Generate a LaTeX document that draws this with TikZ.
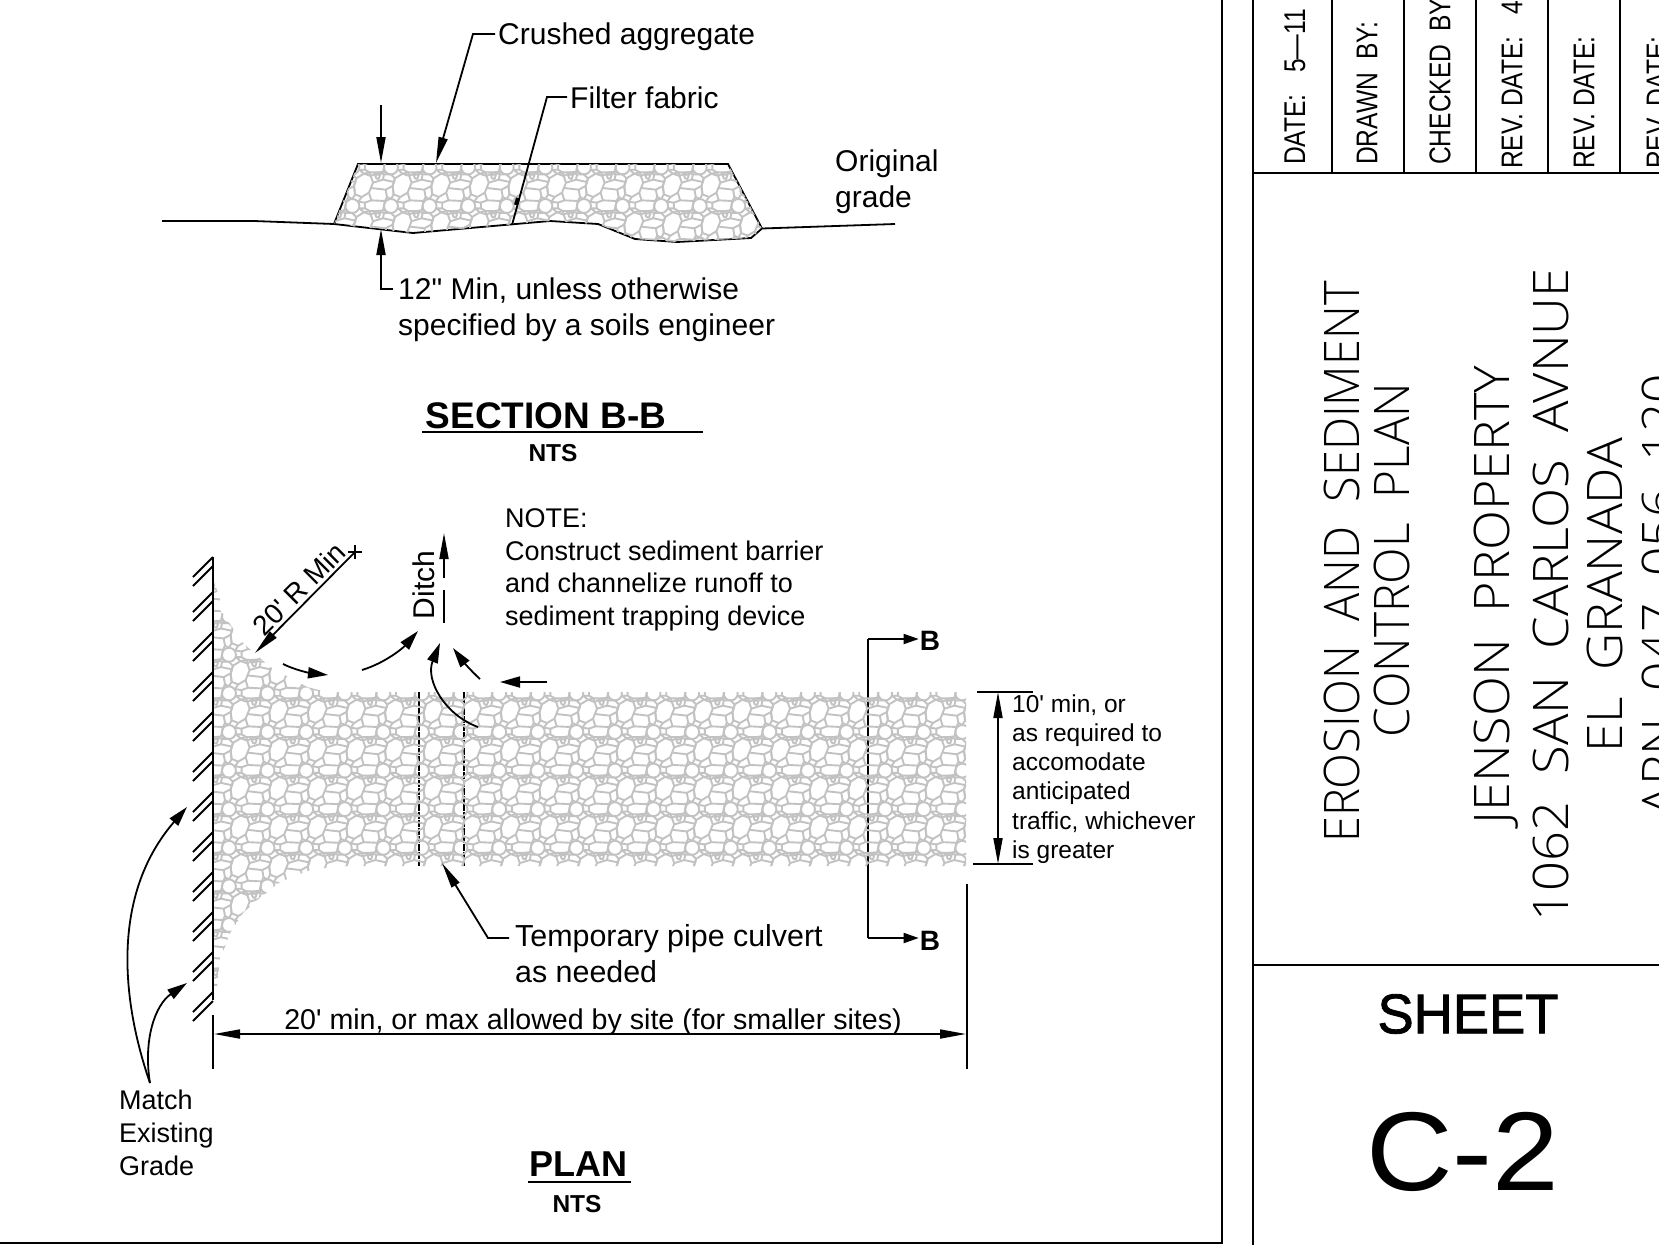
\documentclass[tikz,border=0pt]{standalone}
\usepackage{fontspec}
\usepackage{xcolor}
\setmainfont[Ligatures=TeXOff]{Liberation Sans}
\newfontfamily\titlefont[UprightFont={* Light},Ligatures=TeXOff]{Open Sans}
\newfontfamily\sheetfont[FakeBold=1.5]{Liberation Sans}
\usetikzlibrary{arrows.meta}
\definecolor{rockgray}{HTML}{C2C2C2}
\newcommand{\sz}[2]{\fontsize{#1}{#2}\selectfont}
\tikzset{
  rockline/.style={rockgray,line width=1.9pt,line join=round},
  rocktile/.pic={
    \draw[rockline] (-27,3) -- (-20,-20) -- (3,-34) -- (23,-27) -- (30,-7) -- (18,23) -- (-4,36) -- (-24,28) -- cycle;
    \draw[rockline] (-32,63) circle (21);
    \draw[rockline] (30,-7) -- (60,-16) -- (93,-9) -- (89,3) -- (68,14) -- (24,9);
    \draw[rockline] (23,-27) -- (45,-38) -- (63,-32) -- (60,-16);
    \draw[rockline] (36,-30) -- (52,-32) -- (47,-18) -- (40,-20) -- cycle;
    \draw[rockline] (63,-32) -- (84,-32) (93,-9) -- (96,-20);
    \draw[rockline] (18,23) -- (25,46) -- (66,48) -- (72,36) -- (68,14);
    \draw[rockline] (72,36) -- (84,42) (89,3) -- (92,28) -- (84,42);
    \draw[rockline] (25,46) -- (6,53) -- (6,70) -- (20,78) -- (45,78) -- (60,76) -- (63,63) -- (66,48);
    \draw[rockline] (6,53) -- (-14,50) (6,70) -- (-11,70) -- (3,82) -- (20,78) -- (23,89) (-4,36) -- (-14,50);
    \draw[rockline] (60,76) -- (69,78) (-32,84) -- (-20,96);
  },
  plainline/.style={line width=1.8pt},
  longtip/.style={plainline,-{Triangle[length=26pt,width=9pt]}},
  flowtip/.style={plainline,-{Triangle[length=20pt,width=11pt]}},
  shorttip/.style={plainline,-{Triangle[length=15pt,width=10pt]}},
  twotip/.style={plainline,{Triangle[length=26pt,width=9pt]}-{Triangle[length=26pt,width=9pt]}},
  label/.style={inner sep=1pt,font=\sz{30}{36}},
  midlabel/.style={inner sep=1pt,font=\sz{27}{32.7}},
  sidelabel/.style={inner sep=1pt,font=\sz{24.5}{29.2}},
  headlabel/.style={inner sep=1pt,font=\sz{37}{40}\bfseries},
  ntslabel/.style={inner sep=1pt,font=\sz{24.5}{28}\bfseries},
  cutlabel/.style={inner sep=1pt,font=\sz{28}{30}\bfseries},
  bigtitle/.style={rotate=90,inner sep=0pt,font=\titlefont\sz{49}{52}},
  smalltitle/.style={rotate=90,xscale=0.82,anchor=west,inner sep=0pt,font=\sz{30}{32}},
}
\begin{document}
\begin{tikzpicture}[x=1pt,y=-1pt]
  \useasboundingbox (0,0) rectangle (1659,1245);
  \clip (0,0) rectangle (1659,1245);

  \draw[line width=2pt] (1222,0) -- (1222,1243) -- (0,1243);
  \draw[line width=2pt] (1253,0) -- (1253,1245);
  \draw[line width=2pt] (1253,173) -- (1659,173);
  \draw[line width=2pt] (1253,965) -- (1659,965);
  \foreach \colx in {1332,1404,1476,1548,1620}
    \draw[line width=2pt] (\colx,0) -- (\colx,173);

  \node[smalltitle] (datetxt) at (1295,165) {DATE:\hspace{26pt}5—11};
  \node[smalltitle] (drawntxt) at (1367,165) {DRAWN\hspace{16pt}BY:};
  \node[smalltitle] (checktxt) at (1440,165) {CHECKED\hspace{16pt}BY:};
  \node[smalltitle] (revone) at (1512,169) {REV.\ DATE:\hspace{26pt}4};
  \node[smalltitle] (revtwo) at (1584,169) {REV.\ DATE:};
  \node[smalltitle] (revthree) at (1657,169) {REV.\ DATE:};

  \node[bigtitle,xscale=0.957] (titleone) at (1342,562) {EROSION\ \ AND\ \ SEDIMENT};
  \node[bigtitle,xscale=0.975] (titletwo) at (1392,560) {CONTROL\ \ PLAN};
  \node[bigtitle,xscale=1.065] (jenson) at (1496,595) {JENSON\ \ PROPERTY};
  \node[bigtitle,xscale=1.07] (street) at (1551,595) {1062\ \ SAN\ \ CARLOS\ \ AVNUE};
  \node[bigtitle,xscale=1.05] (town) at (1605,595) {EL\ \ GRANADA};
  \node[bigtitle,xscale=1.05] (apn) at (1660,595) {APN\ \ 047\ \ 056\ \ 120};
  \node[inner sep=0pt,xscale=0.97,font=\sheetfont\sz{56}{60}] (sheettxt) at (1468,1014) {SHEET};
  \node[inner sep=0pt,xscale=1.07,font=\sz{112}{116}] (sheetnum) at (1463,1152) {C-2};

  \draw[plainline] (162,221) -- (254,221) -- (334,224) -- (413,233) -- (550,221) -- (598,224) -- (635,239) -- (677,242) -- (751,238) -- (762,228.5) -- (895,224);
  \draw[plainline] (334,224) -- (358,164) -- (728,164) -- (762,228.5);
  \begin{scope}
    \clip (358,164) -- (728,164) -- (762,228.5) -- (751,238) -- (677,242) -- (635,239) -- (598,224) -- (550,221) -- (413,233) -- (334,224) -- cycle;
    \foreach \i in {-1,...,10}
      \foreach \j in {-1,0,1}
        \pic[scale=0.3333] at (363+38.6*\i,185+38.6*\j) {rocktile};
  \end{scope}

  \node[label,anchor=west] (crushed) at (497,37) {Crushed aggregate};
  \node[label,anchor=west] (fabric) at (569,98) {Filter fabric};
  \node[label,anchor=west,align=left] (orig) at (834,182) {Original\\grade};
  \node[label,anchor=west,align=left] (twelve) at (397,310) {12" Min, unless otherwise\\specified by a soils engineer};
  \coordinate (crushedtip) at (436,163);
  \coordinate (fabricmid) at (516,205);
  \coordinate (fabricend) at (512,225);
  \coordinate (dimtop) at (381,105);
  \coordinate (dimupper) at (381,163);
  \coordinate (dimlower) at (381,229);
  \draw[longtip] (495,34) -- (473,34) -- (crushedtip);
  \draw[plainline] (567,97) -- (547,97) -- (fabricend);
  \draw[line width=4pt] (518,198) -- (fabricmid);
  \draw[longtip] (dimtop) -- (dimupper);
  \draw[longtip] (393,289) -- (381,289) -- (dimlower);

  \node[headlabel] (sectiontxt) at (546,416) {SECTION B-B};
  \draw[plainline] (422,432) -- (703,432);
  \node[ntslabel] (sectionnts) at (553,453) {NTS};

  \draw[plainline] (213,557) -- (213,1000);
  \foreach \haty in {592,632,...,992}
    \draw[plainline] (213,\haty) -- ++(-20,20) (213,\haty+9) -- ++(-20,20);
  \draw[plainline] (213,557) -- ++(-20,20) (213,566) -- ++(-20,20);

  \draw[line width=2.2pt,dash pattern=on 7pt off 1pt] (419,692) -- (419,866);
  \draw[line width=2.2pt,dash pattern=on 7pt off 1pt] (464,692) -- (464,866);
  \coordinate (cuttop) at (868,639);
  \coordinate (cutlow) at (868,938);
  \draw[plainline] (cuttop) -- (cutlow);

  \begin{scope}
    \clip (214,582) -- (220,598) -- (220,610) -- (243,643) -- (270,667) -- (307,687) -- (327,692) -- (966,692) -- (966,866) -- (340,866) -- (310,870) -- (280,882) -- (257,900) -- (243,913) -- (230,933) -- (225,947) -- (220,957) -- (217,987) -- (214,987) -- cycle;
    \foreach \i in {-10,...,10}
      \foreach \j in {-3,...,7}
        \pic[scale=0.3333] at (587+38.6*\i,711+38.6*\j) {rocktile};
  \end{scope}

  \node[cutlabel] (cutb) at (930,641) {B};
  \node[cutlabel] (cutc) at (930,941) {B};
  \draw[shorttip] (cuttop) -- (cutb.west |- cuttop);
  \draw[shorttip] (cutlow) -- (cutc.west |- cutlow);

  \node[midlabel,anchor=west,align=left] (note) at (504,570) {NOTE:\\Construct sediment barrier\\and channelize runoff to\\sediment trapping device};
  \node[label,rotate=90] (ditch) at (424,585) {Ditch};
  \coordinate (ditchtip) at (444,533);
  \draw[longtip] (444,578) -- (ditchtip);
  \draw[plainline] (444,590) -- (444,623);

  \coordinate (radiustip) at (255,653);
  \coordinate (radiusend) at (355,552);
  \draw[longtip] (radiusend) -- (radiustip);
  \draw[plainline] (348,552) -- (362,552) (355,545) -- (355,559);
  \node[midlabel,rotate=45] (radius) at (299,589) {\sz{28}{30}20' R Min};

  \draw[flowtip] (283,664) .. controls (295,670) and (310,673) .. (328,675);
  \draw[flowtip] (362,670) .. controls (385,663) and (403,648) .. (418,631);
  \draw[flowtip] (478,727) .. controls (445,715) and (425,680) .. (440,643);
  \draw[flowtip] (480,679) .. controls (470,670) and (462,660) .. (453,648);
  \draw[flowtip] (547,682) -- (500,682);

  \node[sidelabel,anchor=west,align=left] (sidenote) at (1011,779) {10' min, or\\as required to\\accomodate\\anticipated\\traffic, whichever\\is greater};
  \draw[plainline] (977,692) -- (1033,692);
  \draw[plainline] (973,864) -- (1033,864);
  \draw[twotip] (998,692) -- (998,864);

  \node[label,anchor=west,align=left,font=\sz{30.4}{36}] (culvert) at (514,954) {Temporary pipe culvert\\as needed};
  \coordinate (culverttip) at (442,863);
  \draw[longtip] (509,938) -- (488,938) -- (culverttip);

  \draw[plainline] (213,1015) -- (213,1069);
  \draw[plainline] (967,884) -- (967,1069);
  \coordinate (lengthleft) at (214,1034);
  \coordinate (lengthright) at (966,1034);
  \draw[twotip] (lengthleft) -- (lengthright);
  \node[midlabel,font=\sz{28.6}{32}] (lengthtxt) at (593,1022) {20' min, or max allowed by site (for smaller sites)};

  \node[midlabel,anchor=north west,align=left] (match) at (118,1089) {Match\\Existing\\Grade};
  \coordinate (matchstart) at (150,1083);
  \coordinate (matchone) at (187,807);
  \coordinate (matchtwo) at (187,983);
  \draw[flowtip] (matchstart) .. controls (118,990) and (115,890) .. (matchone);
  \draw[flowtip] (matchstart) .. controls (143,1040) and (155,1005) .. (matchtwo);

  \node[headlabel,font=\sz{36}{40}\bfseries] (plantxt) at (578,1164) {PLAN};
  \draw[plainline] (528,1182) -- (631,1182);
  \node[ntslabel] (plannts) at (577,1204) {NTS};
\end{tikzpicture}
\end{document}
